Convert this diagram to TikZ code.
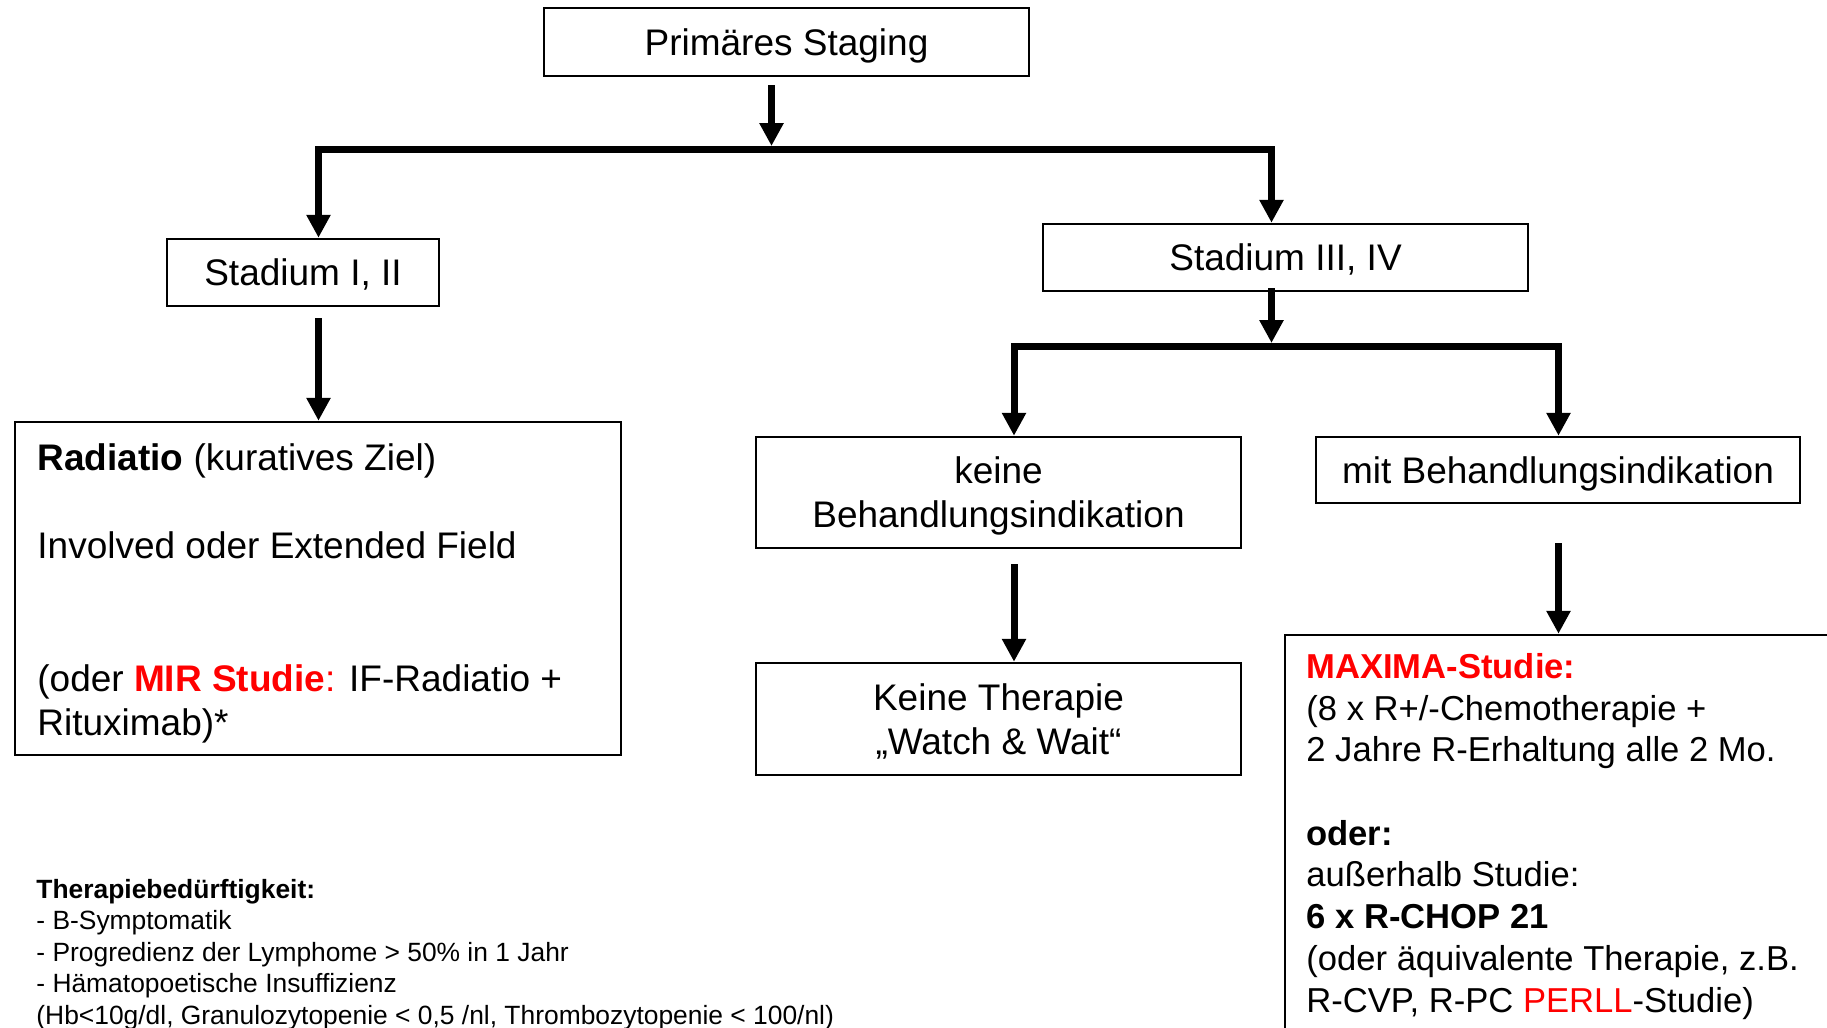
\documentclass[tikz,border=0pt]{standalone}
\usepackage{fontspec}
\setmainfont{Liberation Sans}
\usetikzlibrary{arrows.meta,calc}
\definecolor{studyred}{RGB}{255,0,0}
\newcommand\fsMain{\fontsize{18.5pt}{22pt}\selectfont}
\newcommand\fsStudy{\fontsize{17.3pt}{20.85pt}\selectfont}
\newcommand\fsNote{\fontsize{13.2pt}{15.75pt}\selectfont}
\begin{document}
\begin{tikzpicture}[x=0.5pt,y=-0.5pt,
  box/.style={draw, line width=1.25pt, inner sep=0pt, align=center, font=\fsMain},
  oneline/.style={text height=17.2pt, text depth=3.9pt},
  twoline/.style={text height=39pt, text depth=3.9pt},
  flow/.style={line width=3.5pt, line join=miter, -{Triangle[width=11.5pt,length=11.5pt]}},
  txt/.style={inner sep=0pt, anchor=base west, align=left}]
\path[use as bounding box, clip] (0,0) rectangle (1827,1028);

% boxes
\node[box, oneline, minimum width=242.5pt, minimum height=34pt]   (ps)    at (786.5,42)   {Primäres Staging};
\node[box, oneline, minimum width=136pt,   minimum height=33.5pt] (s12)   at (303,272.5)  {Stadium I, II};
\node[box, oneline, minimum width=242.5pt, minimum height=33.5pt] (s34)   at (1285.5,257.5) {Stadium III, IV};
\node[box, minimum width=303pt,   minimum height=166.5pt] (rad)  at (318,588.5)  {};
\node[box, twoline, minimum width=242.5pt, minimum height=55.5pt] (keine) at (998.5,492.5) {keine\\Behandlungsindikation};
\node[box, oneline, minimum width=242pt,   minimum height=33pt]   (mit)   at (1558,470)   {mit Behandlungsindikation};
\node[box, twoline, minimum width=242.5pt, minimum height=56pt]   (kt)    at (998.5,719)  {Keine Therapie\\„Watch \& Wait“};
\node[box, minimum width=277.5pt, minimum height=205pt]  (max)   at (1562.5,840) {};

% box contents (each block is placed by the baseline of its last line)
\node[txt, font=\fsMain] (radtext) at (37,735) {%
  \textbf{Radiatio} (kuratives Ziel)\\[22pt]
  Involved oder Extended Field\\[44.5pt]
  (oder {\color{studyred}\textbf{MIR Studie}:} IF-Radiatio +\\
  Rituximab)*};
\node[txt, font=\fsStudy] (maxtext) at (1306,1012) {%
  {\color{studyred}\textbf{MAXIMA-Studie:}}\\
  (8 x R+/-Chemotherapie +\\
  2 Jahre R-Erhaltung alle 2 Mo.\\[20.85pt]
  \textbf{oder:}\\
  außerhalb Studie:\\
  \textbf{6 x R-CHOP 21}\\
  (oder äquivalente Therapie, z.B.\\
  R-CVP, R-PC {\color{studyred}PERLL}-Studie)};

% note
\node[txt, font=\fsNote] (note) at (36,1024) {%
  \textbf{Therapiebedürftigkeit:}\\
  - B-Symptomatik\\
  - Progredienz der Lymphome > 50\% in 1 Jahr\\
  - Hämatopoetische Insuffizienz\\
  (Hb<10g/dl, Granulozytopenie < 0,5 /nl, Thrombozytopenie < 100/nl)};

% junctions of the branching bars
\coordinate (j1)  at (771.5,149.5);
\coordinate (b1L) at (318.5,149.5);
\coordinate (b1R) at (1271.5,149.5);
\coordinate (j2)  at (1271.5,346.5);
\coordinate (b2L) at (1014,346.5);
\coordinate (b2R) at (1558.5,346.5);

% connectors
\draw[flow] ($(ps.south -| j1)+(0,8)$) -- ($(j1)+(0,-3.5)$);
\draw[flow] (j1) -- (b1L) -- (s12.north -| b1L);
\draw[flow] (j1) -- (b1R) -- (s34.north -| b1R);
\draw[flow] ($(s12.south -| b1L)+(0,11)$) -- (rad.north -| b1L);
\draw[flow] ($(s34.south -| j2)+(0,-4)$) -- ($(j2)+(0,-3.5)$);
\draw[flow] (j2) -- (b2L) -- (keine.north -| b2L);
\draw[flow] (j2) -- (b2R) -- (mit.north -| b2R);
\draw[flow] ($(keine.south -| b2L)+(0,15)$) -- (kt.north -| b2L);
\draw[flow] ($(mit.south -| b2R)+(0,39)$) -- (max.north -| b2R);
\end{tikzpicture}
\end{document}
